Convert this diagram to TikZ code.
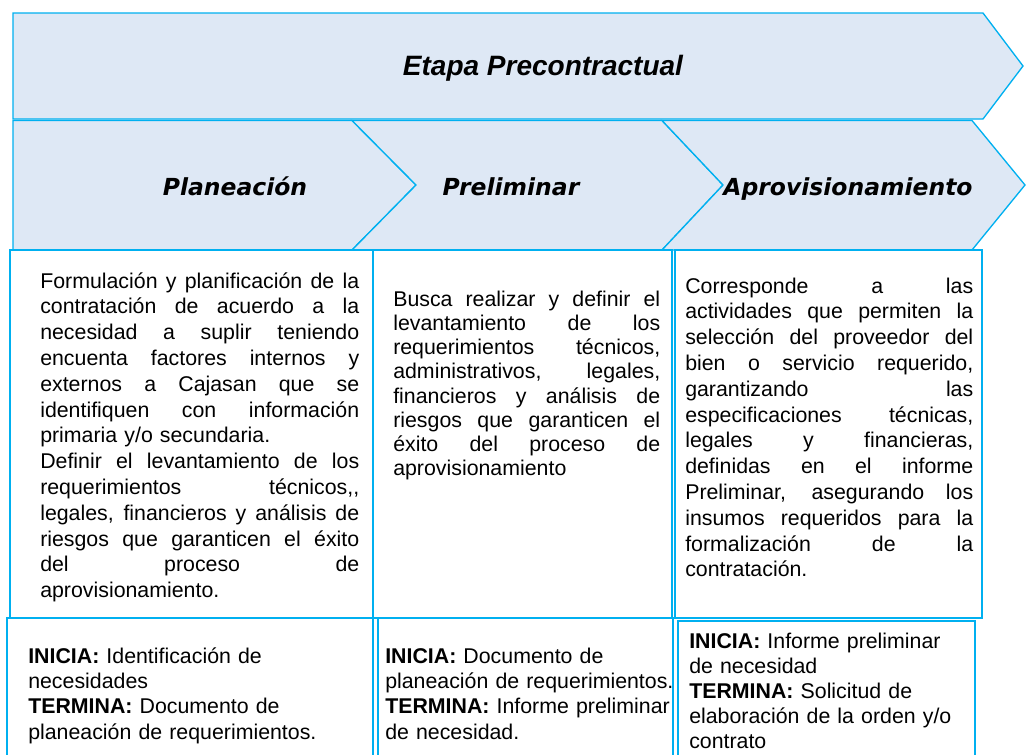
\documentclass[tikz,border=0pt]{standalone}
\usepackage{fontspec}
\usepackage{xcolor}
\setmainfont{Liberation Sans}
\newfontfamily\stagefont{DejaVu Sans}

\definecolor{bandfill}{HTML}{DEE8F5}
\definecolor{bandline}{HTML}{00B0F0}

% one justified line of a text column
\newcommand{\jl}[1]{\makebox[\linewidth][s]{\spaceskip=0pt\xspaceskip=0pt #1}\\}

\begin{document}
\begin{tikzpicture}[x=0.75pt,y=-0.75pt,
  band/.style={fill=bandfill,draw=bandline,line width=1pt,line join=miter},
  cell/.style={draw=bandline,line width=1.3pt},
  stage/.style={anchor=base,inner sep=0pt,font=\stagefont\bfseries\itshape\fontsize{17.6}{20}\selectfont},
  desc/.style={anchor=base west,inner sep=0pt,align=left,font=\fontsize{16}{19.35}\selectfont}]
\useasboundingbox (0,0) rectangle (1028,754);

\filldraw[band] (13,13) -- (983,13) -- (1023,66) -- (983,119) -- (13,119) -- cycle;
\node[anchor=base,inner sep=0pt,font=\bfseries\itshape\fontsize{21}{24}\selectfont] (etapa) at (543,75) {Etapa Precontractual};

\filldraw[band] (13,120.5) -- (352,120.5) -- (416,185) -- (352,250) -- (13,250) -- cycle;
\filldraw[band] (352,120.5) -- (662,120.5) -- (723,185) -- (662,250) -- (352,250) -- (416,185) -- cycle;
\filldraw[band] (662,120.5) -- (972,120.5) -- (1025,185) -- (972,250) -- (662,250) -- (723,185) -- cycle;

\node[stage] (plan) at (235,195) {Planeación};
\node[stage] (prelim) at (511,195) {Preliminar};
\node[stage] (aprov) at (848,195) {Aprovisionamiento};

\draw[cell] (10,250) rectangle (373,618);
\draw[cell] (373,250) rectangle (672,618);
\draw[cell] (675,250) rectangle (982,618);
\draw[cell] (7,618) rectangle (373,760);
\draw[cell] (378,618) rectangle (673,760);
\draw[cell] (678,621) rectangle (975,760);

\node[desc,text width=239.25pt] (descPlan) at (40,288) {%
\jl{Formulación y planificación de la}
\jl{contratación de acuerdo a la}
\jl{necesidad a suplir teniendo}
\jl{encuenta factores internos y}
\jl{externos a Cajasan que se}
\jl{identifiquen con información}
primaria y/o secundaria.\\
\jl{Definir el levantamiento de los}
\jl{requerimientos técnicos,{},}
\jl{legales, financieros y análisis de}
\jl{riesgos que garanticen el éxito}
\jl{del proceso de}
aprovisionamiento.};

\node[desc,text width=200.25pt,font=\fontsize{16}{18.2}\selectfont] (descPrelim) at (393,306) {%
\jl{Busca realizar y definir el}
\jl{levantamiento de los}
\jl{requerimientos técnicos,}
\jl{administrativos, legales,}
\jl{financieros y análisis de}
\jl{riesgos que garanticen el}
\jl{éxito del proceso de}
aprovisionamiento};

\node[desc,text width=216pt] (descAprov) at (685,293) {%
\jl{Corresponde a las}
\jl{actividades que permiten la}
\jl{selección del proveedor del}
\jl{bien o servicio requerido,}
\jl{garantizando las}
\jl{especificaciones técnicas,}
\jl{legales y financieras,}
\jl{definidas en el informe}
\jl{Preliminar, asegurando los}
\jl{insumos requeridos para la}
\jl{formalización de la}
contratación.};

\node[desc,text width=230pt,font=\fontsize{16}{19}\selectfont] (limPlan) at (28,663) {%
\textbf{INICIA:} Identificación de\\
necesidades\\
\textbf{TERMINA:} Documento de\\
planeación de requerimientos.};

\node[desc,text width=230pt,font=\fontsize{16}{19}\selectfont] (limPrelim) at (385,663) {%
\textbf{INICIA:} Documento de\\
planeación de requerimientos.\\
\textbf{TERMINA:} Informe preliminar\\
de necesidad.};

\node[desc,text width=230pt,font=\fontsize{16}{18.9}\selectfont] (limAprov) at (689,648) {%
\textbf{INICIA:} Informe preliminar\\
de necesidad\\
\textbf{TERMINA:} Solicitud de\\
elaboración de la orden y/o\\
contrato};

\end{tikzpicture}
\end{document}
